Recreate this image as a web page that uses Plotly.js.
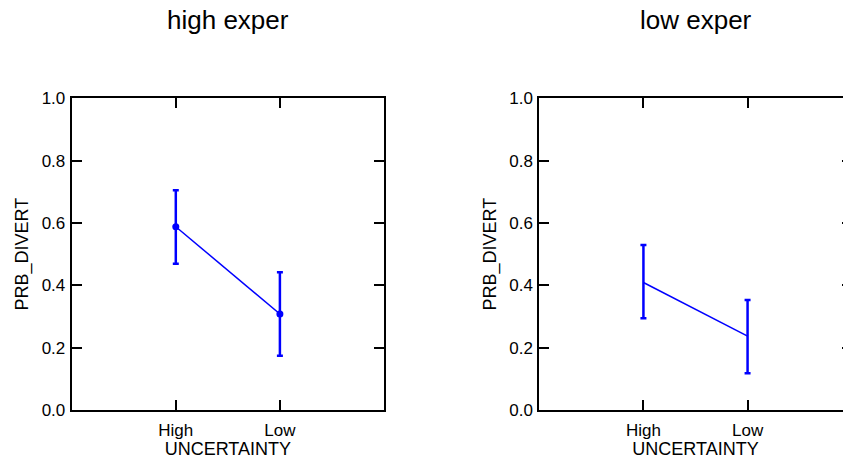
<!DOCTYPE html>
<html>
<head>
<meta charset="utf-8">
<script src="https://cdn.plot.ly/plotly-3.0.1.min.js"></script>
<style>
  html, body { margin: 0; padding: 0; overflow: hidden; background: #fff; }
  #chart { width: 860px; height: 459px; }
</style>
</head>
<body>
<div id="chart"></div>
<script>
// ---- data ----
const categories = ["High", "Low"];
const panelTitles = ["high exper", "low exper"];

const highExperMean  = [0.588, 0.308];
const highExperUpper = [0.705, 0.442];
const highExperLower = [0.469, 0.174];

const lowExperMean  = [0.409, 0.237];
const lowExperUpper = [0.529, 0.353];
const lowExperLower = [0.294, 0.118];

const yTickVals = [0.0, 0.2, 0.4, 0.6, 0.8, 1.0];
const xAxisTitle = "UNCERTAINTY";
const yAxisTitle = "PRB_DIVERT";

// ---- chart ----
const FONT = "Liberation Sans, Arial, Helvetica, sans-serif";
const BLUE = "#0000ff";

function diff(a, b) { return a.map((v, i) => v - b[i]); }

function trace(mean, upper, lower, xa, ya, showMarkers) {
  return {
    type: "scatter",
    mode: showMarkers ? "lines+markers" : "lines",
    x: categories,
    y: mean,
    xaxis: xa,
    yaxis: ya,
    line: { color: BLUE, width: 1.5 },
    marker: { color: BLUE, size: 7 },
    error_y: {
      type: "data",
      symmetric: false,
      array: diff(upper, mean),
      arrayminus: diff(mean, lower),
      color: BLUE,
      thickness: 2.5,
      width: 3
    },
    showlegend: false,
    hoverinfo: "skip"
  };
}

const data = [
  trace(highExperMean, highExperUpper, highExperLower, "x", "y", true),
  trace(lowExperMean, lowExperUpper, lowExperLower, "x2", "y2", false)
];

const W = 860, H = 459;
const M = { l: 60, r: 0, t: 60, b: 49 };
const pw = W - M.l - M.r, ph = H - M.t - M.b;
function dx(a, b) { return [(a - M.l) / pw, (b - M.l) / pw]; }
function dy(top, bottom) { return [(H - M.b - bottom) / ph, (H - M.b - top) / ph]; }

function xaxis(dom, anchor) {
  return {
    domain: dom,
    anchor: anchor,
    type: "category",
    categoryorder: "array",
    categoryarray: categories,
    range: [-1, 2],
    showgrid: false,
    zeroline: false,
    showline: true,
    linecolor: "#000",
    linewidth: 2,
    mirror: "ticks",
    ticks: "inside",
    ticklen: 10,
    tickwidth: 2,
    tickcolor: "#000",
    ticklabelstandoff: 4,
    tickfont: { family: FONT, size: 17, color: "#000" },
    title: { text: xAxisTitle, font: { family: FONT, size: 18, color: "#000" }, standoff: 3 },
    fixedrange: true
  };
}
function yaxis(dom, anchor) {
  return {
    domain: dom,
    anchor: anchor,
    range: [0, 1],
    tickvals: yTickVals,
    tickformat: ".1f",
    showgrid: false,
    zeroline: false,
    showline: true,
    linecolor: "#000",
    linewidth: 2,
    mirror: "ticks",
    ticks: "inside",
    ticklen: 10,
    tickwidth: 2,
    tickcolor: "#000",
    ticklabelstandoff: 1,
    tickfont: { family: FONT, size: 17, color: "#000" },
    title: { text: yAxisTitle, font: { family: FONT, size: 18, color: "#000" }, standoff: 8 },
    fixedrange: true
  };
}

const yDom = dy(98.3, 410);
const layout = {
  width: W,
  height: H,
  margin: M,
  paper_bgcolor: "#fff",
  plot_bgcolor: "#fff",
  font: { family: FONT, color: "#000" },
  xaxis: xaxis(dx(71.7, 384), "y"),
  yaxis: yaxis(yDom, "x"),
  xaxis2: xaxis(dx(539.3, 851.7), "y2"),
  yaxis2: yaxis(yDom, "x2"),
  annotations: panelTitles.map((t, i) => ({
    text: t,
    xref: (i === 0 ? "x" : "x2") + " domain",
    yref: (i === 0 ? "y" : "y2") + " domain",
    x: 0.5,
    y: 1.25,
    xanchor: "center",
    yanchor: "middle",
    showarrow: false,
    font: { family: FONT, size: 26, color: "#000" }
  }))
};

Plotly.newPlot("chart", data, layout, { displayModeBar: false, staticPlot: true });
</script>
</body>
</html>
